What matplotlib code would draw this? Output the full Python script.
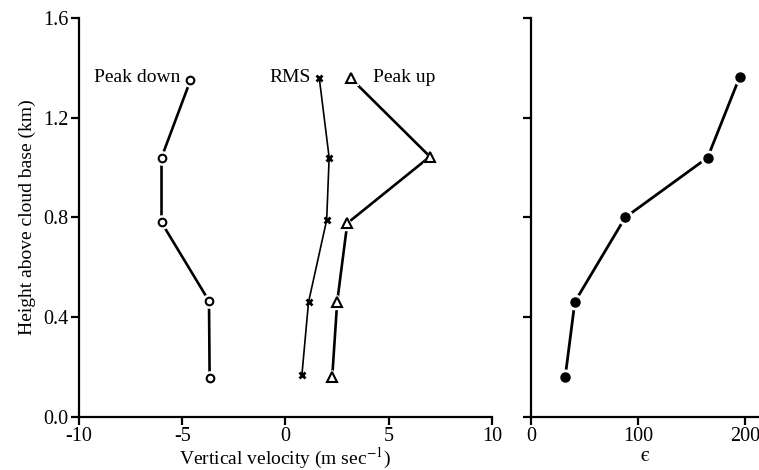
import matplotlib
matplotlib.use("Agg")
import matplotlib.pyplot as plt

plt.rcParams["font.family"] = ["Liberation Serif", "DejaVu Serif"]
plt.rcParams["mathtext.fontset"] = "stix"
plt.rcParams["axes.unicode_minus"] = False

# heights above cloud base (km)
height_down = [1.35, 1.04, 0.78, 0.465, 0.158]
peak_down = [-4.6, -6.0, -6.0, -3.7, -3.67]

height_rms = [1.36, 1.04, 0.79, 0.46, 0.168]
rms = [1.64, 2.12, 2.0, 1.12, 0.8]

height_up = [1.358, 1.044, 0.777, 0.462, 0.162]
peak_up = [3.17, 7.0, 3.0, 2.51, 2.27]

height_eps = [1.364, 1.04, 0.80, 0.462, 0.162]
eps = [195, 165, 88, 41, 32]

vel_ticks = [-10, -5, 0, 5, 10]
eps_ticks = [0, 100, 200]
h_ticks = [0.0, 0.4, 0.8, 1.2, 1.6]

fig = plt.figure(figsize=(7.59, 4.70), dpi=100)
ax1 = fig.add_axes([0.104, 0.1128, 0.544, 0.849])
ax2 = fig.add_axes([0.6996, 0.1128, 0.3004, 0.849])


def gap_line(ax, x, y, marker, ms, lw, mew, fill="white"):
    ax.plot(x, y, color="black", linewidth=lw, zorder=1)
    ax.plot(x, y, linestyle="none", marker=marker, markersize=ms + 4,
            markerfacecolor="white", markeredgecolor="white", zorder=2)
    ax.plot(x, y, linestyle="none", marker=marker, markersize=ms,
            markerfacecolor=fill, markeredgecolor="black",
            markeredgewidth=mew, zorder=3)


gap_line(ax1, peak_down, height_down, "o", 5.5, 1.9, 1.5)
gap_line(ax1, rms, height_rms, "x", 4, 1.2, 2.0)
gap_line(ax1, peak_up, height_up, "^", 6.5, 1.9, 1.5)
gap_line(ax2, eps, height_eps, "o", 6.5, 2.0, 1.0, fill="black")

ax1.text(-5.1, 1.36, "Peak down", ha="right", va="center", fontsize=14)
ax1.text(1.25, 1.36, "RMS", ha="right", va="center", fontsize=14)
ax1.text(4.25, 1.36, "Peak up", ha="left", va="center", fontsize=14)

for ax in (ax1, ax2):
    for s in ("top", "right"):
        ax.spines[s].set_visible(False)
    for s in ("left", "bottom"):
        ax.spines[s].set_linewidth(1.6)
    ax.set_ylim(0, 1.6)
    ax.set_yticks(h_ticks)
    ax.tick_params(direction="out", length=5.5, width=1.6, labelsize=14.5,
                   pad=2)

ax1.set_xlim(-10, 10)
ax1.set_xticks(vel_ticks)
ax1.set_yticklabels([f"{v:.1f}" for v in h_ticks])
ax1.set_xlabel("Vertical velocity (m sec$^{-1}$)", fontsize=14, labelpad=0)
ax1.set_ylabel("Height above cloud base (km)", fontsize=14, labelpad=5)

ax2.set_xlim(0, 213)
ax2.set_xticks(eps_ticks)
ax2.set_yticklabels([])
ax2.set_xlabel("\u03f5", fontsize=15, labelpad=0, family=["STIXGeneral"])

fig.savefig("out.png", dpi=100)
